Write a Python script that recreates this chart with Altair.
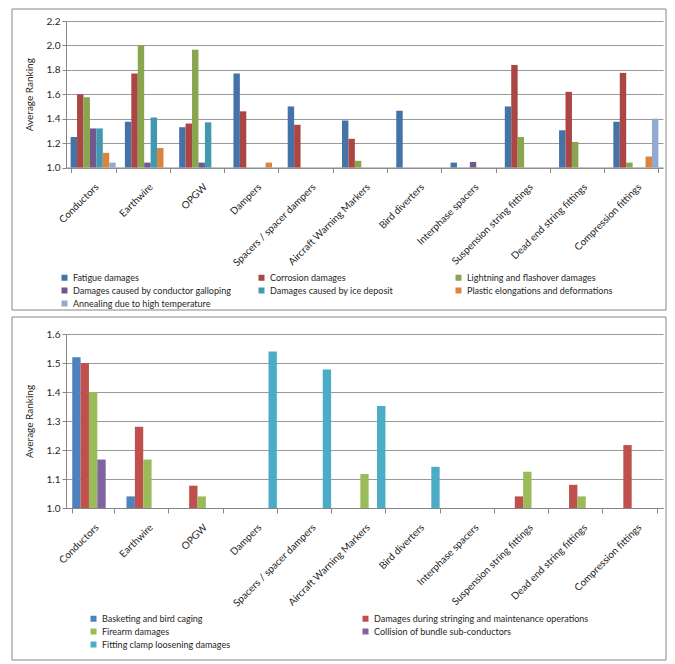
"""Average ranking of damage causes per line component (two clustered bar panels)"""

import altair as alt
import pandas as pd

components = [
    "Conductors", "Earthwire", "OPGW", "Dampers", "Spacers / spacer dampers",
    "Aircraft Warning Markers", "Bird diverters", "Interphase spacers",
    "Suspension string fittings", "Dead end string fittings", "Compression fittings",
]

# Upper panel series (None = no bar)
top_names = [
    "Fatigue damages", "Corrosion damages", "Lightning and flashover damages",
    "Damages caused by conductor galloping", "Damages caused by ice deposit",
    "Plastic elongations and deformations", "Annealing due to high temperature",
]
fatigue = [1.25, 1.375, 1.33, 1.77, 1.50, 1.385, 1.465, 1.04, 1.50, 1.305, 1.375]
corrosion = [1.60, 1.77, 1.36, 1.46, 1.35, 1.235, None, None, 1.84, 1.62, 1.775]
lightning = [1.575, 2.00, 1.965, None, None, 1.055, None, None, 1.25, 1.21, 1.04]
galloping = [1.32, 1.04, 1.04, None, None, None, None, 1.045, None, None, None]
ice_deposit = [1.32, 1.41, 1.37, None, None, None, None, None, None, None, None]
plastic = [1.12, 1.16, None, 1.04, None, None, None, None, None, None, 1.09]
annealing = [1.04, None, None, None, None, None, None, None, None, None, 1.40]
top_colors = ["#4572A7", "#AA4643", "#89A54E", "#71588F", "#4198AF", "#DB843D", "#93A9CF"]

# Lower panel series
bottom_names = [
    "Basketing and bird caging", "Damages during stringing and maintenance operations",
    "Firearm damages", "Collision of bundle sub-conductors",
    "Fitting clamp loosening damages",
]
basketing = [1.52, 1.04, None, None, None, None, None, None, None, None, None]
stringing = [1.50, 1.28, 1.077, None, None, None, None, None, 1.04, 1.08, 1.217]
firearm = [1.40, 1.167, 1.04, None, None, 1.117, None, None, 1.125, 1.04, None]
collision = [1.167, None, None, None, None, None, None, None, None, None, None]
clamp_loosening = [None, None, None, 1.54, 1.478, 1.352, 1.142, None, None, None, None]
bottom_colors = ["#4F81BD", "#C0504D", "#9BBB59", "#8064A2", "#4BACC6"]

GRID = "#9a9a9a"
AXIS = "#868686"
TEXT = "#262626"
FONT = "Lato"


def long_table(names, series):
    rows = []
    for name, values in zip(names, series):
        for comp, v in zip(components, values):
            if v is not None:
                rows.append({"component": comp, "cause": name, "value": v})
    return pd.DataFrame(rows)


def panel(names, series, colors, ymax, yticks, height, pad_inner,
          legend_x, legend_y, legend_cols, col_pad, frame_y, frame_y2):
    df = long_table(names, series)
    bars = alt.Chart(df).mark_bar().encode(
        x=alt.X(
            "component:N",
            scale=alt.Scale(domain=components, paddingInner=pad_inner, paddingOuter=pad_inner / 2),
            axis=alt.Axis(
                title=None, labelAngle=-45, tickBand="extent", tickSize=5,
                labelPadding=9, labelLimit=300,
            ),
        ),
        xOffset=alt.XOffset("cause:N", scale=alt.Scale(domain=names, paddingInner=0, paddingOuter=0)),
        y=alt.Y(
            "value:Q",
            scale=alt.Scale(domain=[1.0, ymax], zero=False, nice=False),
            axis=alt.Axis(
                title="Average Ranking", values=yticks, format=".1f",
                tickSize=4, titlePadding=12, titleFontWeight="normal",
            ),
        ),
        y2=alt.datum(1.0),
        color=alt.Color(
            "cause:N",
            scale=alt.Scale(domain=names, range=colors),
            legend=alt.Legend(
                title=None, orient="none", legendX=legend_x, legendY=legend_y,
                direction="horizontal", columns=legend_cols, columnPadding=col_pad,
                rowPadding=3, gridAlign="all", symbolType="square", symbolSize=36,
                symbolStrokeWidth=0, labelLimit=400, labelOffset=4,
            ),
        ),
    )
    # outer chart frame as drawn around each Excel chart object
    frame = alt.Chart(pd.DataFrame({"f": [0]})).mark_rect(
        filled=False, stroke=AXIS, strokeWidth=1
    ).encode(
        x=alt.value(-54), x2=alt.value(600), y=alt.value(frame_y), y2=alt.value(frame_y2)
    )
    return alt.layer(frame, bars).properties(width=597, height=height)


top = panel(
    top_names,
    [fatigue, corrosion, lightning, galloping, ice_deposit, plastic, annealing],
    top_colors, 2.2, [1.0, 1.2, 1.4, 1.6, 1.8, 2.0, 2.2], 146.5, 0.17,
    -6, 252, 3, 25, -12, 289,
)
bottom = panel(
    bottom_names,
    [basketing, stringing, firearm, collision, clamp_loosening],
    bottom_colors, 1.6, [1.0, 1.1, 1.2, 1.3, 1.4, 1.5, 1.6], 174, 0.23,
    23, 280, 2, 44, -17, 326,
)

chart = alt.vconcat(top, bottom, spacing=5).resolve_scale(
    color="independent", x="independent", y="independent", xOffset="independent"
).configure(
    padding={"left": 3, "top": 0, "right": 0, "bottom": 0},
    font=FONT,
).configure_view(
    stroke=None
).configure_axis(
    labelFont=FONT, titleFont=FONT, labelFontSize=10, titleFontSize=10,
    labelColor=TEXT, titleColor=TEXT, domainColor=AXIS, tickColor=AXIS,
    gridColor=GRID, gridWidth=1,
).configure_axisX(
    grid=False, labelFontSize=10
).configure_legend(
    labelFont=FONT, labelFontSize=9, labelColor=TEXT,
)

chart.save("out.html", embed_options={"renderer": "svg", "actions": False})
